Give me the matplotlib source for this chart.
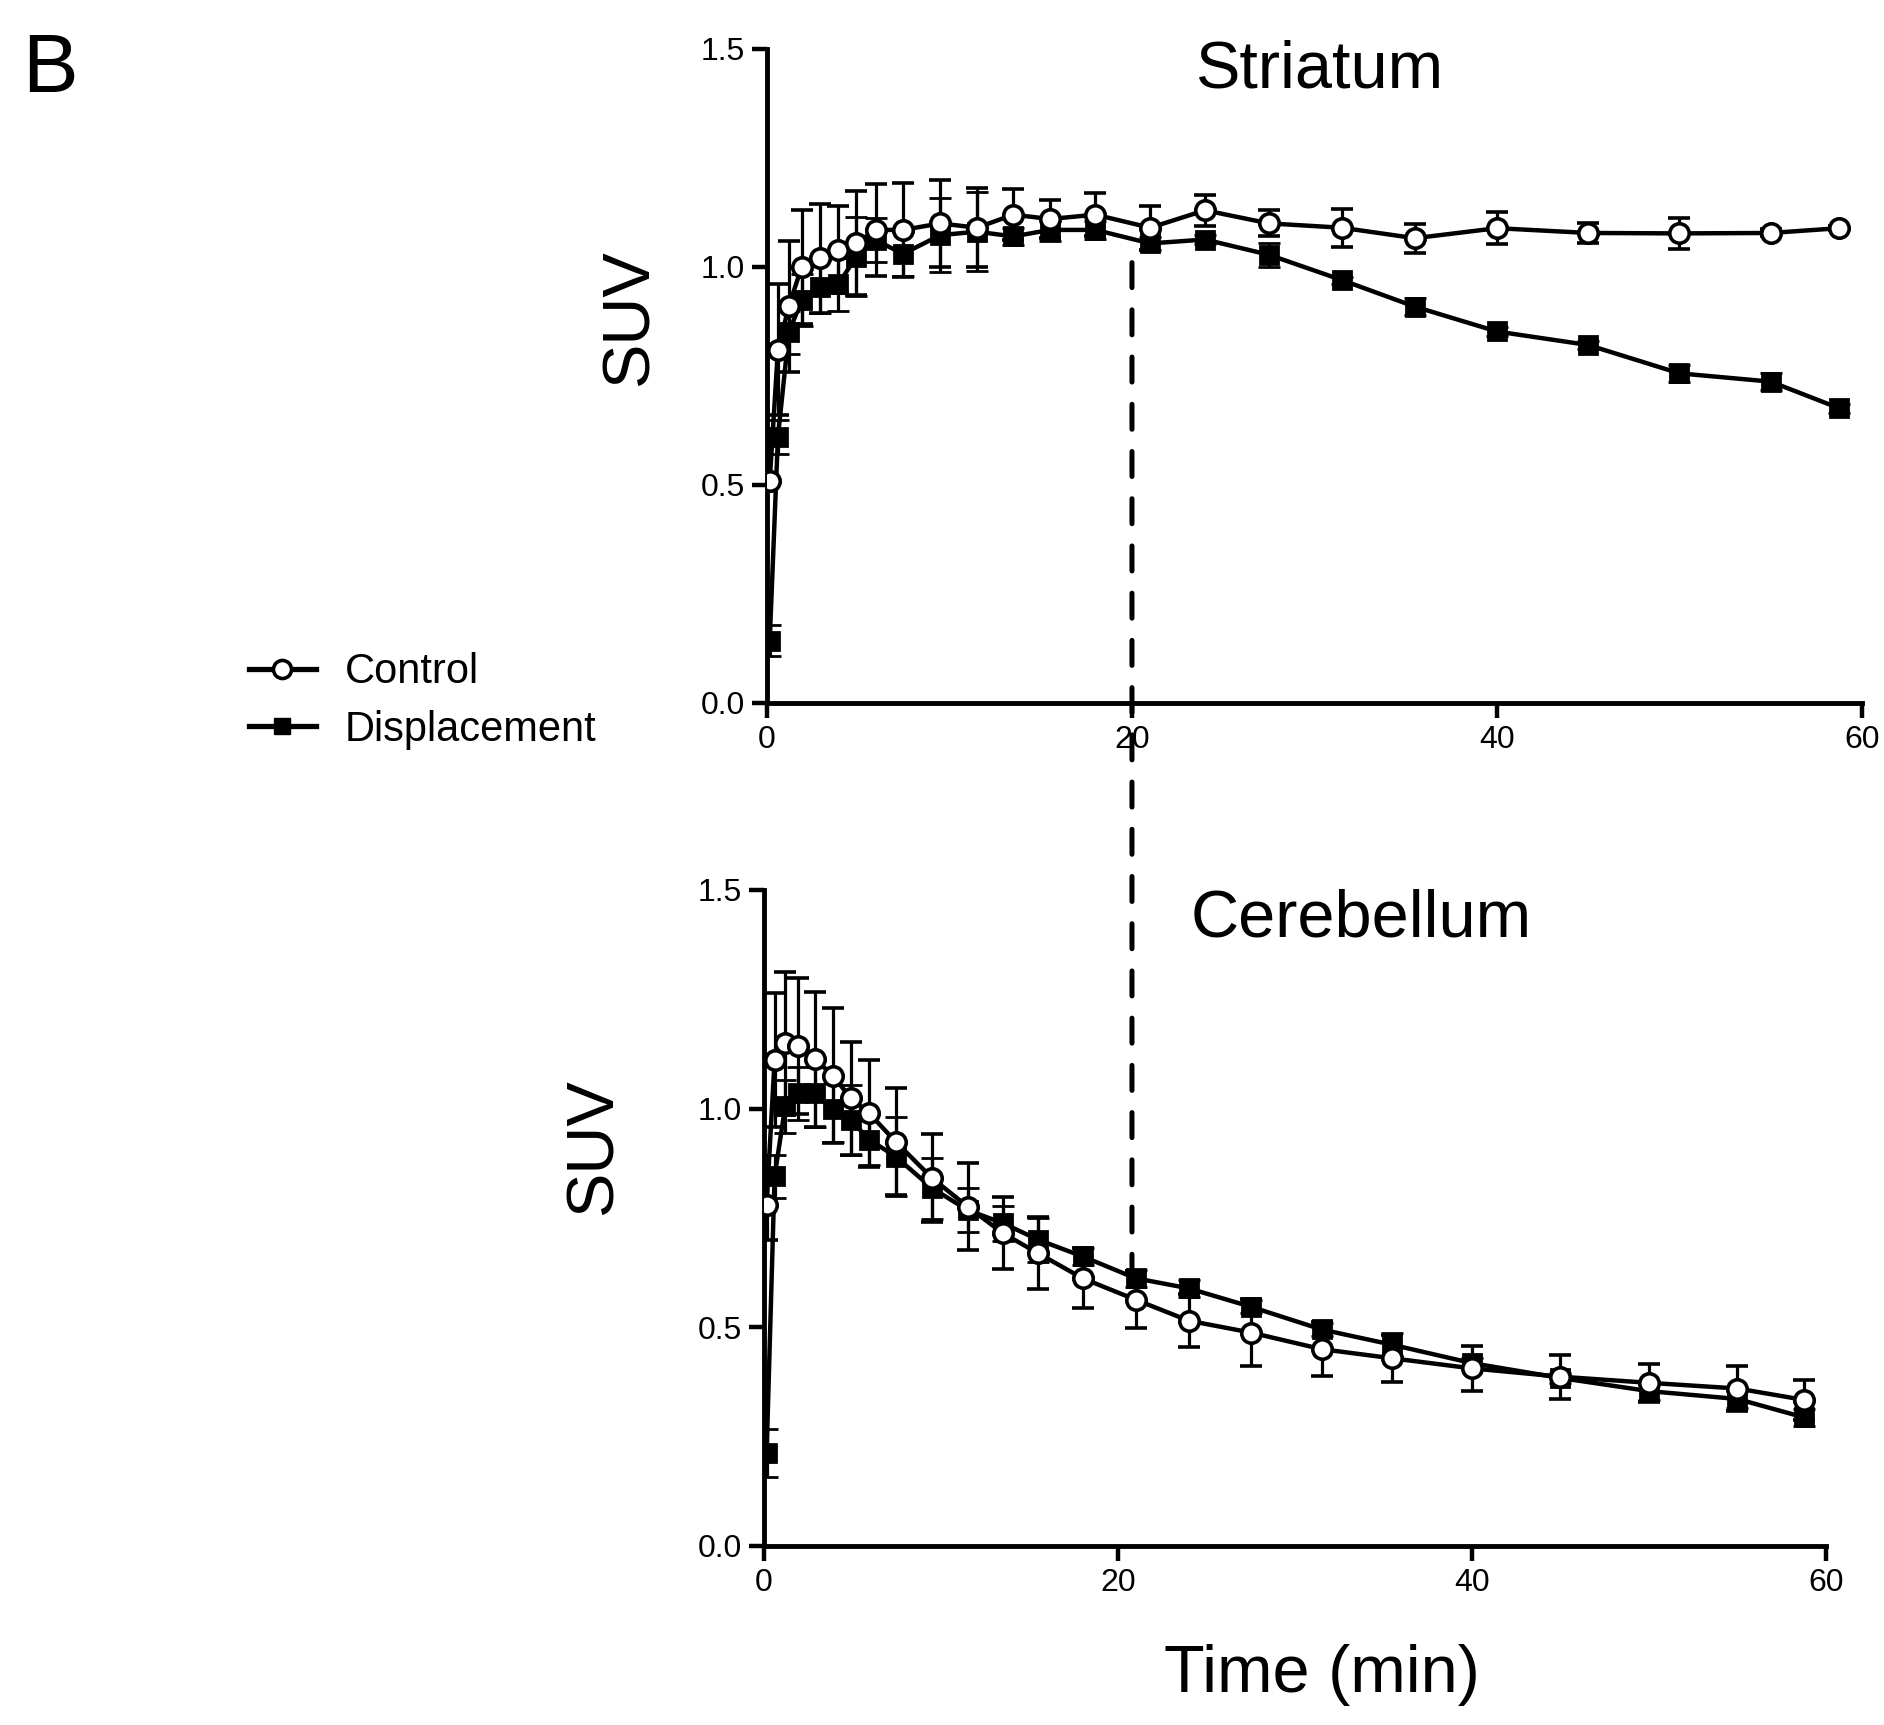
import matplotlib
matplotlib.use("Agg")
import matplotlib.pyplot as plt
from matplotlib import font_manager
from matplotlib.patches import ConnectionPatch
from matplotlib.lines import Line2D
from matplotlib.transforms import blended_transform_factory

# ---------------- data ----------------
times = [0.15, 0.6, 1.2, 1.9, 2.9, 3.9, 4.9, 5.95, 7.45, 9.5, 11.5, 13.5, 15.5,
         18.0, 21.0, 24.0, 27.5, 31.5, 35.5, 40.0, 45.0, 50.0, 55.0, 58.75]

str_control = [0.51, 0.81, 0.91, 1.00, 1.02, 1.04, 1.055, 1.085, 1.085, 1.10, 1.09, 1.12,
               1.11, 1.12, 1.09, 1.13, 1.10, 1.09, 1.066, 1.089, 1.078, 1.077, 1.078, 1.089]
str_control_err = [0.0, 0.15, 0.15, 0.13, 0.125, 0.10, 0.12, 0.106, 0.107, 0.10, 0.09, 0.058,
                   0.043, 0.05, 0.05, 0.036, 0.03, 0.044, 0.033, 0.037, 0.024, 0.035, 0.008, 0.005]
str_disp = [0.143, 0.61, 0.85, 0.924, 0.955, 0.96, 1.024, 1.062, 1.03, 1.073, 1.081, 1.07,
            1.085, 1.085, 1.054, 1.063, 1.028, 0.970, 0.909, 0.852, 0.821, 0.756, 0.737, 0.676]
str_disp_err = [0.035, 0.04, 0.05, 0.06, 0.06, 0.06, 0.09, 0.05, 0.05, 0.085, 0.09, 0.02,
                0.025, 0.02, 0.015, 0.01, 0.027, 0.008, 0.02, 0.01, 0.01, 0.02, 0.02, 0.01]

cer_control = [0.78, 1.111, 1.149, 1.143, 1.113, 1.075, 1.024, 0.989, 0.924, 0.841, 0.776, 0.715,
               0.669, 0.612, 0.563, 0.515, 0.488, 0.45, 0.429, 0.406, 0.387, 0.373, 0.36, 0.334]
cer_control_err = [0.08, 0.153, 0.164, 0.155, 0.154, 0.154, 0.129, 0.122, 0.122, 0.10, 0.10, 0.082,
                   0.082, 0.069, 0.065, 0.061, 0.076, 0.061, 0.053, 0.052, 0.05, 0.043, 0.052, 0.046]
cer_disp = [0.212, 0.845, 1.005, 1.035, 1.035, 1.0, 0.974, 0.929, 0.89, 0.818, 0.768, 0.738,
            0.70, 0.662, 0.612, 0.589, 0.547, 0.495, 0.46, 0.418, 0.384, 0.354, 0.336, 0.294]
cer_disp_err = [0.055, 0.05, 0.06, 0.06, 0.077, 0.076, 0.08, 0.058, 0.09, 0.07, 0.05, 0.04,
                0.05, 0.02, 0.02, 0.02, 0.015, 0.015, 0.027, 0.012, 0.012, 0.02, 0.02, 0.02]

series_labels = ["Control", "Displacement"]
panel_titles = ["Striatum", "Cerebellum"]
x_ticks = [0, 20, 40, 60]
y_ticks = [0.0, 0.5, 1.0, 1.5]
displacement_time = 20
dash_top_suv = 1.01      # in striatum panel
dash_bottom_suv = 0.63   # in cerebellum panel

# ---------------- fonts ----------------
names = {f.name for f in font_manager.fontManager.ttflist}
plain = "Liberation Sans" if "Liberation Sans" in names else "DejaVu Sans"
if "Liberation Sans Narrow" in names:
    narrow, big = "Liberation Sans Narrow", 57
else:
    narrow, big = plain, 48
plt.rcParams["font.family"] = [plain, "DejaVu Sans"]
plt.rcParams["lines.scale_dashes"] = False

fig = plt.figure(figsize=(18.84, 17.25), dpi=100)
ax1 = fig.add_axes([0.4071, 0.5925, 0.5812, 0.3791])
ax2 = fig.add_axes([0.4055, 0.1038, 0.5637, 0.3803])

mk = 14
LW = 3.2
def draw(ax, c, ce, d, de):
    ax.errorbar(times, d, yerr=de, color="black", marker="s", ms=mk - 1,
                mfc="black", mec="black", mew=2, lw=LW, elinewidth=2.3,
                capsize=8, capthick=2.3, zorder=3)
    ax.errorbar(times, c, yerr=ce, color="black", marker="o", ms=mk,
                mfc="white", mec="black", mew=2.6, lw=LW, elinewidth=2.3,
                capsize=8, capthick=2.3, zorder=4)
    ax.set_xlim(0, 60)
    ax.set_ylim(0, 1.5)
    ax.set_xticks(x_ticks)
    ax.set_yticks(y_ticks)
    ax.set_yticklabels([f"{v:.1f}" for v in y_ticks])
    for s in ["top", "right"]:
        ax.spines[s].set_visible(False)
    for s in ["left", "bottom"]:
        ax.spines[s].set_linewidth(3.5)
    ax.tick_params(direction="out", length=11, width=3.2, labelsize=23, pad=5)
    ax.patch.set_alpha(0)

draw(ax1, str_control, str_control_err, str_disp, str_disp_err)
draw(ax2, cer_control, cer_control_err, cer_disp, cer_disp_err)

# dashed vertical marker spanning both panels
trB = blended_transform_factory(ax1.transData, ax2.transData)
con = ConnectionPatch(xyA=(displacement_time, dash_top_suv), coordsA=ax1.transData,
                      xyB=(displacement_time, dash_bottom_suv), coordsB=trB,
                      color="black", lw=3.6, linestyle=(0, (18, 16)), zorder=1)
fig.add_artist(con)

# texts
fig.text(0.7001, 0.9594, panel_titles[0], ha="center", va="center",
         fontsize=big, family=[narrow, "DejaVu Sans"])
fig.text(0.7224, 0.4672, panel_titles[1], ha="center", va="center",
         fontsize=big, family=[narrow, "DejaVu Sans"])
fig.text(0.3349, 0.8157, "SUV", rotation=90, ha="center", va="center",
         fontsize=big, family=[narrow, "DejaVu Sans"])
fig.text(0.3158, 0.3351, "SUV", rotation=90, ha="center", va="center",
         fontsize=big, family=[narrow, "DejaVu Sans"])
fig.text(0.7017, 0.029, "Time (min)", ha="center", va="center",
         fontsize=big, family=[narrow, "DejaVu Sans"])
fig.text(0.0265, 0.9594, "B", ha="center", va="center", fontsize=60)

h_c = Line2D([], [], color="black", lw=LW + 0.6, marker="o", ms=mk - 1, mfc="white",
             mec="black", mew=2.6)
h_d = Line2D([], [], color="black", lw=LW + 0.6, marker="s", ms=mk - 2, mfc="black",
             mec="black")
fig.legend([h_c, h_d], series_labels, loc="center left",
           bbox_to_anchor=(249 / 1884, 0.5935), frameon=False, fontsize=30,
           borderpad=0, borderaxespad=0, handlelength=1.6, handletextpad=0.7,
           labelspacing=0.42)

fig.savefig("out.png", dpi=100, facecolor="white")
